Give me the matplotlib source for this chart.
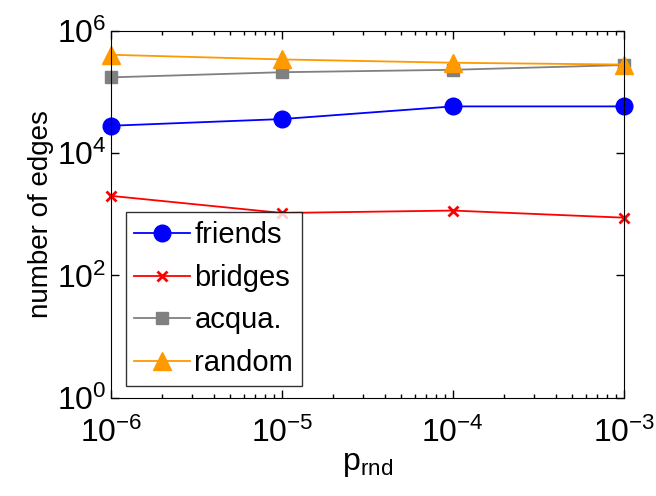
import matplotlib
matplotlib.use('Agg')
import matplotlib.pyplot as plt
from matplotlib.ticker import LogLocator, NullFormatter, NullLocator

plt.rcParams['font.family'] = ['Liberation Sans', 'DejaVu Sans']
plt.rcParams['mathtext.fontset'] = 'custom'
plt.rcParams['mathtext.rm'] = 'Liberation Sans'

# Data
p_rnd = [1e-6, 1e-5, 1e-4, 1e-3]
friends = [2.8e4, 3.6e4, 5.8e4, 5.8e4]
bridges = [2.0e3, 1.05e3, 1.15e3, 880]
acqua = [1.73e5, 2.1e5, 2.3e5, 2.75e5]
random_ = [4.05e5, 3.4e5, 3.0e5, 2.8e5]

fig = plt.figure(figsize=(6.56, 4.96), dpi=100)
ax = fig.add_axes([0.169, 0.198, 0.782, 0.740])

ax.plot(p_rnd, friends, '-o', color='#0000ff', markersize=12, lw=1.3, label='friends')
ax.plot(p_rnd, bridges, '-x', color='#ff0000', markersize=7, mew=2, lw=1.3, label='bridges')
ax.plot(p_rnd, acqua, '-s', color='#808080', markersize=8, lw=1.3, label='acqua.')
ax.plot(p_rnd, random_, '-^', color='#ff9900', markersize=13, lw=1.3, label='random')

for ln in ax.lines:
    ln.set_clip_on(False)

ax.set_xscale('log')
ax.set_yscale('log')
ax.set_xlim(1e-6, 1e-3)
ax.set_ylim(1e0, 1e6)
ax.set_yticks([1e0, 1e2, 1e4, 1e6])
ax.yaxis.set_minor_locator(NullLocator())
ax.xaxis.set_minor_locator(LogLocator(base=10, subs=range(2, 10)))
ax.xaxis.set_minor_formatter(NullFormatter())

ax.tick_params(which='both', direction='in', top=True, right=True, labelsize=23)
ax.tick_params(which='major', length=6, width=1)
ax.tick_params(which='minor', length=3, width=1)
ax.tick_params(axis='x', pad=14)
ax.tick_params(axis='y', pad=3)

ax.set_ylabel('number of edges', fontsize=20, labelpad=2)
ax.set_xlabel(r'$\mathrm{p}_{\mathrm{rnd}}$', fontsize=23, labelpad=0)

leg = ax.legend(loc='lower left', bbox_to_anchor=(0.029, 0.033), fontsize=21,
                frameon=True, fancybox=False, edgecolor='black',
                handlelength=1.9, handletextpad=0.15, borderpad=0.3, labelspacing=0.5,
                borderaxespad=0.0)
leg.get_frame().set_linewidth(1.0)

plt.savefig('out.png', dpi=100)
